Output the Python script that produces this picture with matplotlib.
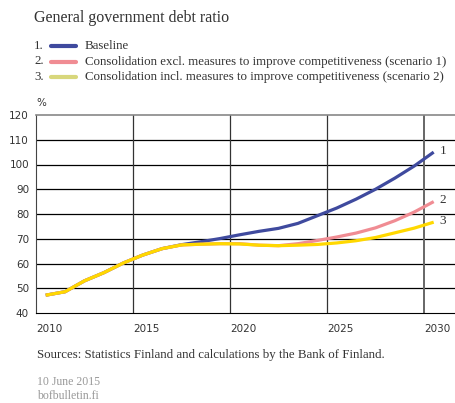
import matplotlib
matplotlib.use("Agg")
from matplotlib import pyplot as plt

years = list(range(2010, 2031))
baseline = [47.2, 48.6, 53.0, 56.3, 60.2, 63.4, 66.0, 67.6, 68.8, 70.1,
            71.6, 73.0, 74.2, 76.2, 79.3, 82.4, 86.0, 90.0, 94.5, 99.4, 105.0]
scenario1 = [47.2, 48.6, 53.0, 56.3, 60.2, 63.4, 66.0, 67.5, 67.8, 68.0,
             68.0, 67.4, 67.2, 68.0, 69.3, 70.7, 72.3, 74.4, 77.3, 80.8, 85.0]
scenario2 = [47.2, 48.6, 53.0, 56.3, 60.2, 63.4, 66.0, 67.5, 67.8, 68.0,
             67.9, 67.4, 67.2, 67.4, 67.7, 68.3, 69.2, 70.5, 72.4, 74.3, 76.7]
seriesNames = ["Baseline",
               "Consolidation excl. measures to improve competitiveness (scenario 1)",
               "Consolidation incl. measures to improve competitiveness (scenario 2)"]
seriesColors = ["#3f4a9e", "#f08c93", "#ffd800"]
legendColors = ["#3f4a9e", "#f08c93", "#d8d77c"]
xTicks = [2010, 2015, 2020, 2025, 2030]
yTicks = list(range(40, 121, 10))

fig = plt.figure(figsize=(4.56, 4.03), dpi=100)
ax = fig.add_axes([36 / 456, 90 / 403, 420 / 456, 198 / 403])

xs = [y + 0.5 for y in years]  # values sit in the middle of each year
for vals, col in zip([baseline, scenario1, scenario2], seriesColors):
    ax.plot(xs, vals, color=col, lw=2.3, solid_capstyle="butt", zorder=3)
for i, vals in enumerate([baseline, scenario1, scenario2]):
    ax.text(xs[-1] + 0.3, vals[-1] + 0.6, str(i + 1), fontsize=9.5, family="Liberation Serif",
            color="#333333", va="center", ha="left")

ax.set_xlim(2010, 2031.65)
ax.set_ylim(40, 120)
ax.set_yticks(yTicks)
ax.set_xticks(xTicks)
ax.set_xticklabels([str(t) for t in xTicks], ha="left")
ax.tick_params(length=0, labelsize=7.5, colors="#333333")
ax.tick_params(axis="y", pad=5)
ax.tick_params(axis="x", pad=8)
for yv in yTicks[1:-1]:
    ax.axhline(yv, color="black", lw=0.9, zorder=1)
for xv in xTicks[1:]:
    ax.axvline(xv, color="#333333" if xv < 2030 else "#666666", lw=0.9 if xv < 2030 else 1.4, zorder=1)
ax.spines["right"].set_visible(False)
ax.spines["top"].set_color("#888888")
ax.spines["top"].set_linewidth(1.2)
ax.spines["left"].set_color("#444444")
ax.spines["bottom"].set_color("black")

fig.text(36 / 456, 1 - 103 / 403, "%", fontsize=7.5, color="#333333", va="center")

serif = "Liberation Serif"
fig.text(34 / 456, 1 - 18 / 403, "General government debt ratio", fontsize=11.5,
         family=serif, color="#333333", va="center")
for i, (name, col) in enumerate(zip(seriesNames, legendColors)):
    yy = 1 - (46 + 15.5 * i) / 403
    fig.text(34 / 456, yy, f"{i + 1}.", fontsize=9.3, family=serif, color="#333333", va="center")
    fig.add_artist(plt.Line2D([51 / 456, 76 / 456], [yy, yy], color=col, lw=3,
                              solid_capstyle="round", transform=fig.transFigure))
    fig.text(85 / 456, yy, name, fontsize=9.3, family=serif, color="#333333", va="center")

fig.text(37 / 456, 1 - 355 / 403, "Sources: Statistics Finland and calculations by the Bank of Finland.",
         fontsize=9.3, family=serif, color="#333333", va="center")
fig.text(37 / 456, 1 - 382 / 403, "10 June 2015", fontsize=8.5, family=serif, color="#999999", va="center")
fig.text(37 / 456, 1 - 396 / 403, "bofbulletin.fi", fontsize=8.5, family=serif, color="#999999", va="center")

fig.savefig("out.png", dpi=100)
